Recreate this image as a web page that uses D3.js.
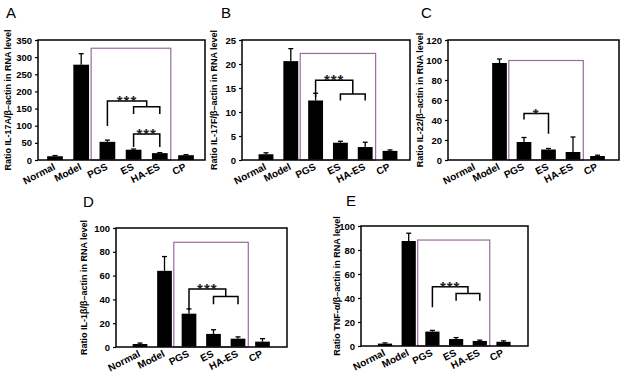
<!DOCTYPE html>
<html>
<head>
<meta charset="utf-8">
<script src="https://cdn.jsdelivr.net/npm/d3@7"></script>
<style>
  body { margin: 0; background: #fff; }
  svg text { font-family: "Liberation Sans", Arial, sans-serif; }
</style>
</head>
<body>
<div id="chart"></div>
<script>
const categories = ["Normal", "Model", "PGS", "ES", "HA-ES", "CP"];

// A: IL-17A
const il17aMean = [11, 278, 53, 30, 20, 14];
const il17aErr = [2, 32, 5, 2, 1.5, 1.5];
const il17aTicks = [0, 50, 100, 150, 200, 250, 300, 350];
const il17aFrameTop = 326;
const il17aBrackets = [
  { from: ["PGS"], to: ["ES", "HA-ES"], top: 172, down: [99, 155], label: "***" },
  { from: ["ES"], to: ["HA-ES"], top: 155, down: [134, 134], label: "" },
  { from: ["ES"], to: ["HA-ES"], top: 76, down: [38, 38], label: "***" }
];

// B: IL-17F
const il17fMean = [1.2, 20.6, 12.4, 3.6, 2.7, 1.9];
const il17fErr = [0.3, 2.6, 1.5, 0.3, 1.0, 0.2];
const il17fTicks = [0, 5, 10, 15, 20, 25];
const il17fFrameTop = 22.2;
const il17fBrackets = [
  { from: ["PGS"], to: ["ES", "HA-ES"], top: 16.6, down: [13.1, 13.75], label: "***" },
  { from: ["ES"], to: ["HA-ES"], top: 13.75, down: [12.4, 12.4], label: "" }
];

// C: IL-22
const il22Mean = [0, 97, 18, 10.5, 8, 4];
const il22Err = [0, 4, 4.5, 1, 15, 0.8];
const il22Ticks = [0, 20, 40, 60, 80, 100, 120];
const il22FrameTop = 99.5;
const il22Brackets = [
  { from: ["PGS"], to: ["ES"], top: 46.4, down: [40.5, 26.2], label: "*" }
];

// D: IL-1beta
const il1bMean = [2.5, 64, 28, 11, 7, 4.5];
const il1bErr = [0.8, 12, 4, 3.5, 1.5, 2.5];
const il1bTicks = [0, 20, 40, 60, 80, 100];
const il1bFrameTop = 88;
const il1bBrackets = [
  { from: ["PGS"], to: ["ES", "HA-ES"], top: 48.7, down: [31, 42.5], label: "***" },
  { from: ["ES"], to: ["HA-ES"], top: 42.5, down: [36, 36], label: "" }
];

// E: TNF-alpha
const tnfMean = [2, 87.5, 12, 5.8, 4.2, 3.5];
const tnfErr = [0.6, 6.5, 1, 1.2, 0.7, 0.8];
const tnfTicks = [0, 20, 40, 60, 80, 100];
const tnfFrameTop = 88.3;
const tnfBrackets = [
  { from: ["PGS"], to: ["ES", "HA-ES"], top: 49.3, down: [32.2, 43.8], label: "***" },
  { from: ["ES"], to: ["HA-ES"], top: 43.8, down: [37.7, 37.7], label: "" }
];

const panels = [
  { letter: "A", title: "Ratio IL-17A/β–actin in RNA level", mean: il17aMean, err: il17aErr,
    ticks: il17aTicks, frameTop: il17aFrameTop, brackets: il17aBrackets,
    box: [38, 205, 40, 160], centers: [55, 186], letterAt: [6, 18], titleX: 8 },
  { letter: "B", title: "Ratio IL-17F/β–actin in RNA level", mean: il17fMean, err: il17fErr,
    ticks: il17fTicks, frameTop: il17fFrameTop, brackets: il17fBrackets,
    box: [242, 410, 40, 160], centers: [266, 390], letterAt: [221, 18], titleX: 214 },
  { letter: "C", title: "Ratio IL-22/β–actin in RNA level", mean: il22Mean, err: il22Err,
    ticks: il22Ticks, frameTop: il22FrameTop, brackets: il22Brackets,
    box: [448, 619, 40, 160], centers: [475, 597.5], letterAt: [421, 18], titleX: 420 },
  { letter: "D", title: "Ratio IL-1β/β–actin in RNA level", mean: il1bMean, err: il1bErr,
    ticks: il1bTicks, frameTop: il1bFrameTop, brackets: il1bBrackets,
    box: [116, 287, 228, 347], centers: [140, 262.5], letterAt: [83, 207], titleX: 84 },
  { letter: "E", title: "Ratio TNF-α/β–actin in RNA level", mean: tnfMean, err: tnfErr,
    ticks: tnfTicks, frameTop: tnfFrameTop, brackets: tnfBrackets,
    box: [361, 528, 226, 346], centers: [385, 503.5], letterAt: [346, 206], titleX: 337 }
];

const svg = d3.select("#chart")
  .append("svg")
  .attr("width", 627)
  .attr("height", 381);

panels.forEach(drawPanel);

function drawPanel(p) {
  const [x0, x1, yTop, yZero] = p.box;
  const x = d3.scalePoint().domain(categories).range(p.centers);
  const step = x.step();
  const barW = step * 0.6;
  const y = d3.scaleLinear().domain([0, d3.max(p.ticks)]).range([yZero, yTop]);
  const g = svg.append("g");

  // panel letter
  g.append("text")
    .attr("x", p.letterAt[0])
    .attr("y", p.letterAt[1])
    .attr("font-size", 15)
    .text(p.letter);

  // bars
  g.selectAll("rect.bar")
    .data(categories)
    .join("rect")
    .attr("class", "bar")
    .attr("x", d => x(d) - barW / 2)
    .attr("y", (d, i) => y(p.mean[i]))
    .attr("width", barW)
    .attr("height", (d, i) => yZero - y(p.mean[i]))
    .attr("fill", "#000");

  // error bars (only the upper half shows above the bar)
  categories.forEach((d, i) => {
    if (!p.err[i]) return;
    const yb = y(p.mean[i]), ye = y(p.mean[i] + p.err[i]);
    g.append("line")
      .attr("x1", x(d)).attr("x2", x(d))
      .attr("y1", yb).attr("y2", ye)
      .attr("stroke", "#000").attr("stroke-width", 1.3);
    g.append("line")
      .attr("x1", x(d) - 2.5).attr("x2", x(d) + 2.5)
      .attr("y1", ye).attr("y2", ye)
      .attr("stroke", "#000").attr("stroke-width", 1.3);
  });

  // purple frame around the treatment groups
  const fx0 = x("PGS") - 0.62 * step;
  const fx1 = x("HA-ES") + 0.42 * step;
  g.append("rect")
    .attr("x", fx0)
    .attr("y", y(p.frameTop))
    .attr("width", fx1 - fx0)
    .attr("height", yZero - y(p.frameTop))
    .attr("fill", "none")
    .attr("stroke", "#9a6a9e")
    .attr("stroke-width", 1.2);

  // y axis
  const axis = g.append("g")
    .attr("transform", `translate(${x0},0)`)
    .call(d3.axisLeft(y).tickValues(p.ticks).tickSize(3).tickPadding(3));
  axis.select(".domain").remove();
  axis.selectAll("line").attr("stroke-width", 1.2);
  axis.selectAll("text")
    .attr("font-size", 9.5)
    .attr("font-weight", "bold")
    .attr("fill", "#000")
    .style("font-family", '"Liberation Sans", Arial, sans-serif');

  // plot frame
  g.append("rect")
    .attr("x", x0)
    .attr("y", yTop)
    .attr("width", x1 - x0)
    .attr("height", yZero - yTop)
    .attr("fill", "none")
    .attr("stroke", "#000")
    .attr("stroke-width", 1.5);

  // category labels
  g.selectAll("text.xl")
    .data(categories)
    .join("text")
    .attr("class", "xl")
    .attr("transform", d => `translate(${x(d) + 1},${yZero + 9}) rotate(-27)`)
    .attr("text-anchor", "end")
    .attr("font-size", 10)
    .attr("font-weight", "bold")
    .text(d => d);

  // y title
  g.append("text")
    .attr("transform", `translate(${p.titleX + 3},${(yTop + yZero) / 2}) rotate(-90)`)
    .attr("text-anchor", "middle")
    .attr("font-size", 9)
    .attr("font-weight", "bold")
    .text(p.title);

  // significance brackets
  p.brackets.forEach(b => {
    const xl = d3.mean(b.from, c => x(c));
    const xr = d3.mean(b.to, c => x(c));
    g.append("path")
      .attr("d", `M${xl},${y(b.down[0])}V${y(b.top)}H${xr}V${y(b.down[1])}`)
      .attr("fill", "none")
      .attr("stroke", "#000")
      .attr("stroke-width", 1.5);
    if (b.label) {
      g.append("text")
        .attr("x", (xl + xr) / 2)
        .attr("y", y(b.top) + 5)
        .attr("text-anchor", "middle")
        .attr("font-size", 15)
        .attr("font-weight", "bold")
        .attr("letter-spacing", 1)
        .attr("fill", "#222")
        .text(b.label);
    }
  });
}
</script>
</body>
</html>
